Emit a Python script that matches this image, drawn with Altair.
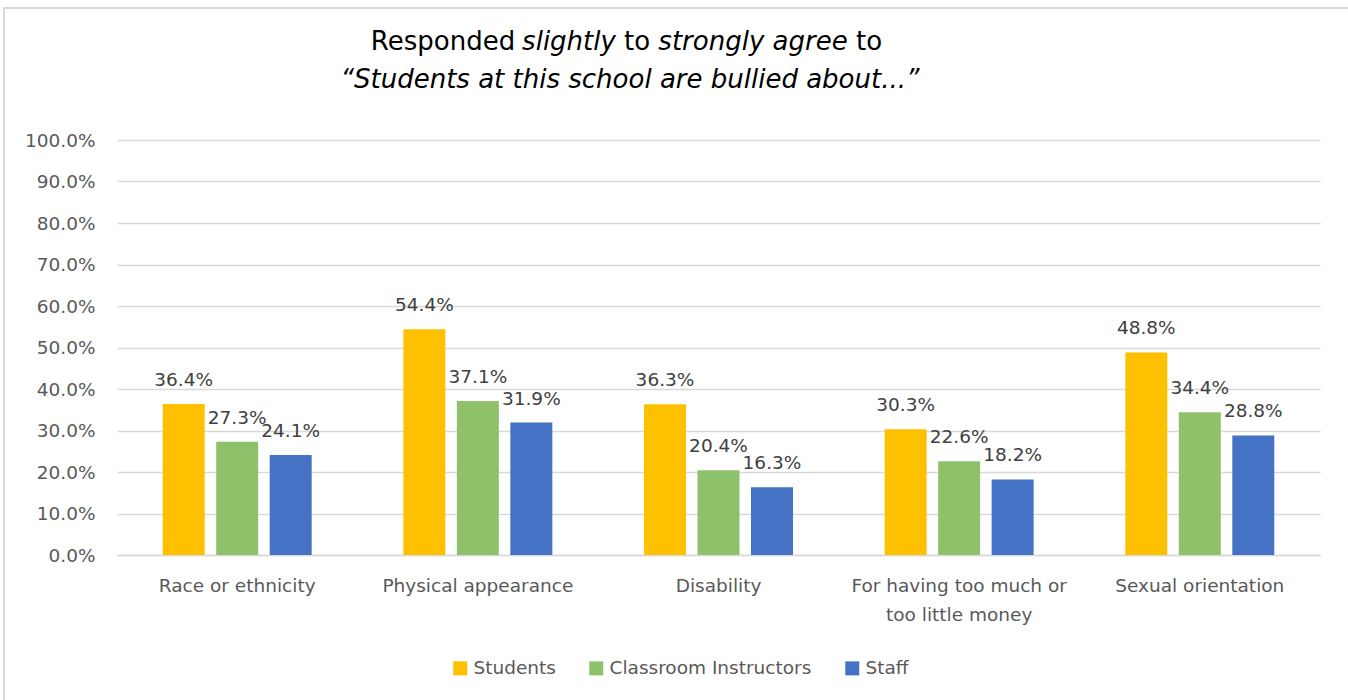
import altair as alt
import pandas as pd

categories = ["Race or ethnicity", "Physical appearance", "Disability",
              "For having too much or too little money", "Sexual orientation"]
groups = ["Students", "Classroom Instructors", "Staff"]
students = [0.364, 0.544, 0.363, 0.303, 0.488]
instructors = [0.273, 0.371, 0.204, 0.226, 0.344]
staff = [0.241, 0.319, 0.163, 0.182, 0.288]
colors = ["#FFC000", "#8FC16A", "#4472C4"]
y_ticks = [i / 10 for i in range(11)]

rows = []
for i, c in enumerate(categories):
    for g, vals in zip(groups, [students, instructors, staff]):
        rows.append({"category": c, "group": g, "value": vals[i]})
df = pd.DataFrame(rows)

W, H = 1203, 415
FONT = "DejaVu Sans"
FS = 18.5

label_expr = ("datum.value == 'For having too much or too little money' ? "
              "['For having too much or', 'too little money'] : datum.value")

x_enc = alt.X("category:N", sort=categories,
              scale=alt.Scale(paddingInner=0.381, paddingOuter=0.19),
              axis=alt.Axis(title=None, labelAngle=0, labelFontSize=FS, labelFont=FONT,
                            labelColor="#595959", labelPadding=21, ticks=False,
                            domainColor="#D9D9D9", domainWidth=1.5, labelExpr=label_expr,
                            labelLineHeight=29, labelBaseline="top", grid=False,
                            labelLimit=0))
y_enc = alt.Y("value:Q", scale=alt.Scale(domain=[0, 1], nice=False),
              axis=alt.Axis(title=None, format=".1%", values=y_ticks, labelFontSize=FS,
                            labelFont=FONT, labelColor="#595959", labelPadding=22,
                            ticks=False, domain=False, gridColor="#D9D9D9", gridWidth=1.5))
xo = alt.XOffset("group:N", sort=groups, scale=alt.Scale(paddingInner=0.215, paddingOuter=0))

base = alt.Chart(df)
bars = base.mark_bar().encode(
    x=x_enc, y=y_enc, xOffset=xo,
    color=alt.Color("group:N", sort=groups, scale=alt.Scale(domain=groups, range=colors),
                    legend=alt.Legend(title=None, orient="none", direction="horizontal",
                                      legendX=334, legendY=519, symbolType="square",
                                      symbolSize=196, symbolStrokeWidth=0,
                                      labelFontSize=FS, labelFont=FONT,
                                      labelColor="#595959", labelOffset=4,
                                      columnPadding=31, labelLimit=0)),
)
labels = base.mark_text(font=FONT, fontSize=FS, color="#404040", baseline="middle",
                        dy=-24).encode(
    x=alt.X("category:N", sort=categories), y="value:Q", xOffset=xo,
    text=alt.Text("value:Q", format=".1%"),
)

title_df = pd.DataFrame({
    "t": ["Responded", "slightly", "to", "strongly agree", "to",
          "\u201cStudents at this school are bullied about...\u201d"],
    "style": ["normal", "italic", "normal", "italic", "normal", "italic"],
    "px": [326, 452, 520, 636, 752, 513],
    "py": [-98, -98, -98, -98, -98, -60],
})
title_normal = alt.Chart(title_df[title_df["style"] == "normal"]).mark_text(
    font=FONT, fontSize=26, color="#000000", baseline="middle", align="center"
).encode(x=alt.X("px:Q", scale=None), y=alt.Y("py:Q", scale=None), text="t:N")
title_italic = alt.Chart(title_df[title_df["style"] == "italic"]).mark_text(
    font=FONT, fontSize=26, fontStyle="italic", color="#000000", baseline="middle",
    align="center"
).encode(x=alt.X("px:Q", scale=None), y=alt.Y("py:Q", scale=None), text="t:N")

border = alt.Chart(pd.DataFrame({"a": [0]})).mark_rect(
    fill=None, stroke="#D9D9D9", strokeWidth=2
).encode(x=alt.value(-113), x2=alt.value(W + 120), y=alt.value(-132), y2=alt.value(H + 200))

chart = alt.layer(border, bars, labels, title_normal, title_italic).properties(
    width=W, height=H,
    autosize=alt.AutoSizeParams(type="none"),
    padding={"left": 117, "top": 140, "right": 28, "bottom": 145},
    background="white",
).configure_view(stroke=None).resolve_scale(x="shared")

chart.save("out.html", embed_options={"renderer": "svg", "actions": False})
